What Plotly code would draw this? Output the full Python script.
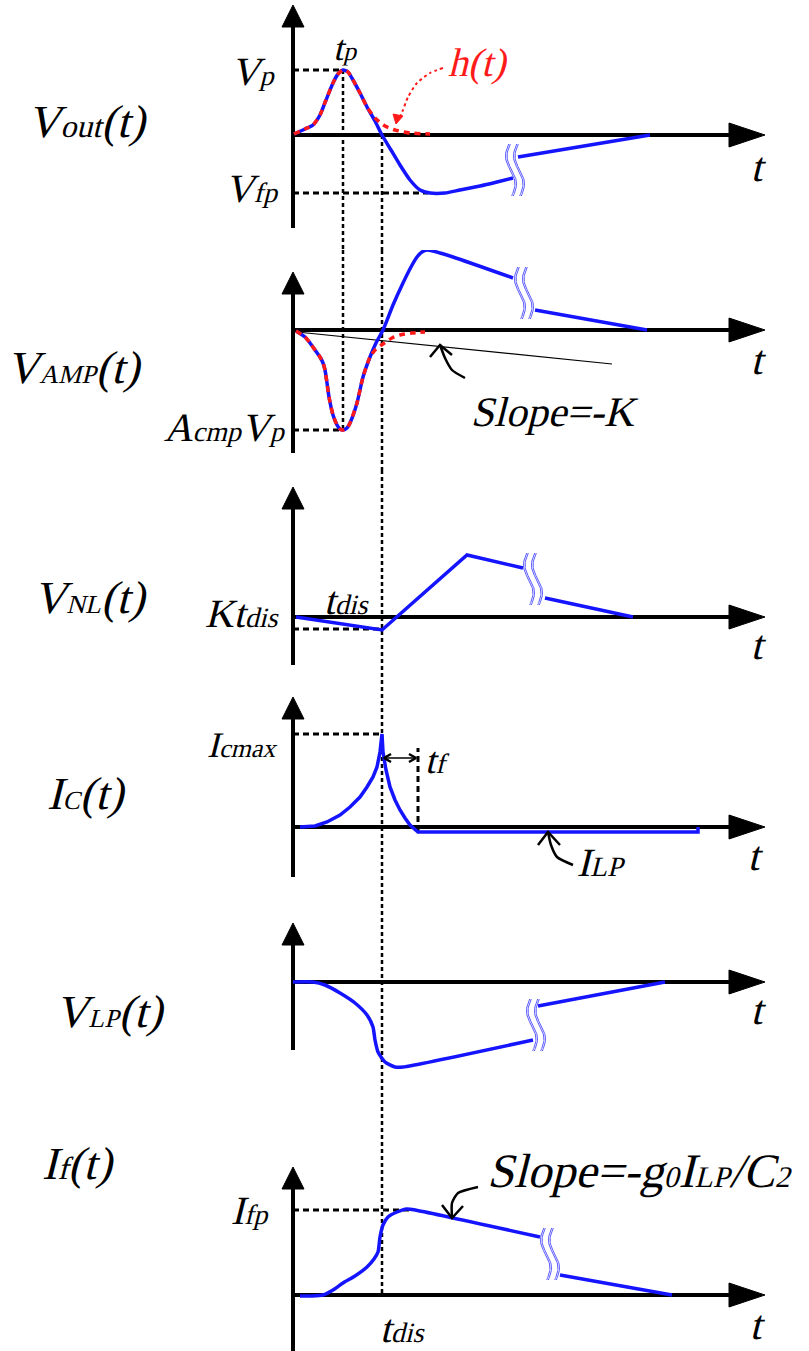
import numpy as np
import plotly.graph_objects as go

# ------------------------------------------------------------------
# DATA  (t = time axis units, v = signal units; one unit ~ one pixel)
# ------------------------------------------------------------------
T_P = 50          # t_p   (peak time)
T_DIS = 89        # t_dis (discharge instant)
T_FEND = 125      # t_dis + t_f
T_AXIS_END = 472  # end of time axes (arrow tip)

# Panel 1 : Vout(t) and h(t)
VOUT_T = [1, 12, 20, 27, 33, 40, 45, 50, 55, 60, 67, 74, 82, 89, 98, 107, 117, 127, 137, 152, 167, 187, 204, 220]
VOUT_V = [1, 6, 10, 20, 35, 52, 61, 65, 63, 55, 42, 28, 14, 0, -15, -30, -45, -55, -58, -58, -55, -51, -47, -43]
VOUT_TAIL_T = [225, 357]
VOUT_TAIL_V = [-22, 0]
H_T = [1, 12, 20, 27, 33, 40, 45, 50, 55, 60, 67, 74, 82, 92, 102, 117, 137]
H_V = [1, 6, 10, 20, 35, 52, 61, 65, 63, 55, 42, 28, 17, 9, 5, 2, 1]
VP = 65
VFP = -58
HARROW_T = [150, 137, 124, 115, 110, 107]
HARROW_V = [67, 62, 52, 38, 25, 18]

# Panel 2 : VAMP(t)
VAMP_T = [3, 12, 17, 22, 27, 30, 32, 34, 36, 40, 44, 47, 50, 54, 57, 64, 70, 77, 83, 90, 100, 110, 118, 124, 129, 134, 140, 160, 220]
VAMP_V = [-1, -7, -13, -20, -27, -33, -40, -53, -67, -85, -95, -99, -100, -98, -93, -73, -47, -27, -13, 0, 25, 47, 63, 73, 78, 80, 79, 73, 52]
VAMP_TAIL_T = [242, 354]
VAMP_TAIL_V = [20, 0]
HAMP_T = [3, 12, 17, 22, 27, 30, 32, 34, 36, 40, 44, 47, 50, 54, 57, 64, 70, 77, 83, 90, 99, 107, 119, 132]
HAMP_V = [-1, -7, -13, -20, -27, -33, -40, -53, -67, -85, -95, -99, -100, -98, -93, -73, -47, -27, -19, -14, -8, -5, -3, -2]
ACMP_VP = -100
SLOPE_K_T = [4, 319]
SLOPE_K_V = [-2, -34]
PTR2_T = [172, 159, 152, 147]
PTR2_V = [-48, -40, -28, -15]

# Panel 3 : VNL(t)
VNL_T = [3, 89, 174, 230]
VNL_V = [0, -13, 62, 49]
VNL_TAIL_T = [252, 340]
VNL_TAIL_V = [19, 0]
KTDIS = -12

# Panel 4 : IC(t)
IC_T = [7, 22, 34, 47, 57, 67, 74, 80, 84, 87, 89, 90, 93, 97, 102, 107, 112, 117, 125, 405, 405]
IC_V = [0, 1, 5, 12, 20, 30, 40, 50, 60, 75, 93, 75, 57, 40, 27, 17, 9, 2, -5, -5, 0]
ICMAX = 93
TF_LEVEL = 69
PTR4_T = [280, 264, 258, 255]
PTR4_V = [-38, -30, -18, -5]

# Panel 5 : VLP(t)
VLP_T = [0, 20, 32, 47, 62, 74, 80, 82, 85, 92, 102, 110, 240]
VLP_V = [0, 0, -3, -11, -21, -33, -45, -58, -70, -80, -85, -85, -58]
VLP_TAIL_T = [245, 372]
VLP_TAIL_V = [-24, 0]

# Panel 6 : If(t)
IF_T = [7, 19, 30, 40, 50, 62, 74, 81, 85, 87, 90, 95, 104, 114, 122, 247]
IF_V = [-1, -1, 0, 5, 12, 19, 28, 36, 43, 58, 70, 78, 83, 86, 85, 58]
IF_TAIL_T = [267, 379]
IF_TAIL_V = [20, 0]
IFP = 85
PTR6_T = [185, 165, 159, 159]
PTR6_V = [108, 102, 92, 77]

# break marks (t centre, v centre) per panel (None = no break)
BREAKS = [(222, -35), (231, 37), (240, 38), None, (243, -43), (257, 41)]

# ------------------------------------------------------------------
# LAYOUT (pixel bands of the six stacked panels: top, bottom, baseline)
# ------------------------------------------------------------------
W, H = 809, 1351
X0 = 293
PANELS = [(0, 250, 135), (250, 470, 330), (470, 680, 617),
          (680, 890, 827), (890, 1100, 982), (1100, 1351, 1295)]
VAXIS = [(-93, 130), (-123, 58), (-48, 130), (-50, 130), (-68, 59), (-56, 128)]

BLUE = "#1414ff"
RED = "#ff1a1a"
BREAK_BLUE = "#5a5aff"
FONT = "Liberation Serif"

fig = go.Figure()


def yname(k):
    return "y" if k == 0 else f"y{k + 1}"


def band(k):
    top, bot, base = PANELS[k]
    return base - bot, base - top   # (v at bottom, v at top)


def line(k, t, v, color="black", width=3, dash="solid", shape="linear"):
    fig.add_trace(go.Scatter(x=list(t), y=list(v), xaxis="x", yaxis=yname(k), mode="lines",
                             line=dict(color=color, width=width, dash=dash, shape=shape,
                                       smoothing=0.6 if shape == "spline" else None),
                             hoverinfo="skip", showlegend=False, cliponaxis=False))


def tri(k, t, v, color="black"):
    fig.add_trace(go.Scatter(x=list(t) + [t[0]], y=list(v) + [v[0]], xaxis="x", yaxis=yname(k),
                             mode="lines", fill="toself", fillcolor=color,
                             line=dict(color=color, width=1), hoverinfo="skip", showlegend=False))


def axes(k):
    vb, vt = VAXIS[k]
    line(k, [0, 0], [vb, vt - 16], width=4)
    tri(k, [-11, 11, 0], [vt - 22, vt - 22, vt])
    line(k, [0, T_AXIS_END - 30], [0, 0], width=4)
    tri(k, [T_AXIS_END - 36, T_AXIS_END - 36, T_AXIS_END], [12, -12, 0])


def brk(k):
    if BREAKS[k] is None:
        return
    tc, vc = BREAKS[k]
    s = np.linspace(0, 1, 40)
    for off in (-4, 4):
        for d in (-0.8, 0.8):
            tt = tc + off + d - 4 * np.sin(2 * np.pi * s) + 3 * (s - 0.5)
            vv = vc + 26 - 52 * s
            line(k, tt, vv, color=BREAK_BLUE, width=1)


def pointer(k, t, v, color="black", width=2.5, dash="solid"):
    line(k, t, v, color=color, width=width, dash=dash, shape="spline")


def chevron(k, tip, a1, a2):
    line(k, [a1[0], tip[0], a2[0]], [a1[1], tip[1], a2[1]], width=2.5)


ann = []


def txt(k, t, v, text, size=40, color="black"):
    ann.append(dict(x=t, y=v, xref="x", yref=yname(k), text=text, showarrow=False,
                    xanchor="center", yanchor="middle",
                    font=dict(family=FONT, size=size, color=color)))


def sp(s, px):
    return f'<span style="font-size:{px}px">{s}</span>'


DASH_H = "6px,4px"
DASH_V = "4px,3px"

# ---- guide lines (drawn first) ----
b1 = band(0)
line(0, [0, T_P], [VP, VP], width=3, dash=DASH_H)
line(0, [0, 135], [VFP, VFP], width=3, dash=DASH_H)
line(0, [T_P, T_P], [VP, b1[0]], width=2.5, dash=DASH_V)
line(0, [T_DIS, T_DIS], [0, b1[0]], width=2.5, dash=DASH_V)
b2 = band(1)
line(1, [T_P, T_P], [b2[1], ACMP_VP], width=2.5, dash=DASH_V)
line(1, [0, T_P], [ACMP_VP, ACMP_VP], width=3, dash=DASH_H)
line(1, [T_DIS, T_DIS], [b2[1], b2[0]], width=2.5, dash=DASH_V)
b3 = band(2)
line(2, [0, T_DIS], [KTDIS, KTDIS], width=3, dash=DASH_H)
line(2, [T_DIS, T_DIS], [b3[1], b3[0]], width=2.5, dash=DASH_V)
b4 = band(3)
line(3, [0, T_DIS], [ICMAX, ICMAX], width=3, dash=DASH_H)
line(3, [T_DIS, T_DIS], [b4[1], b4[0]], width=2.5, dash=DASH_V)
line(3, [T_FEND, T_FEND], [-5, TF_LEVEL + 10], width=3, dash=DASH_H)
b5 = band(4)
line(4, [T_DIS, T_DIS], [b5[1], b5[0]], width=2.5, dash=DASH_V)
b6 = band(5)
line(5, [T_DIS, T_DIS], [b6[1], 0], width=2.5, dash=DASH_V)
line(5, [0, 117], [IFP, IFP], width=3, dash=DASH_H)

# ---- axes ----
for k in range(6):
    axes(k)

# ---- panel 1 ----
line(0, VOUT_T, VOUT_V, BLUE, 3.5, shape="spline")
line(0, VOUT_TAIL_T, VOUT_TAIL_V, BLUE, 3.5)
line(0, H_T, H_V, RED, 3.5, dash="6px,5px", shape="spline")
pointer(0, HARROW_T, HARROW_V, color=RED, width=2, dash="dot")
tri(0, [103, 100, 110], [11, 21, 19], RED)
brk(0)
txt(0, -203, 14, "V" + sp("out", 32) + "(t)", 46)
txt(0, -38, 64, "V" + sp("p", 28), 40)
txt(0, 54, 87, "t" + sp("p", 26), 36)
txt(0, -39, -53, "V" + sp("fp", 28), 40)
txt(0, 187, 73, "h(t)", 40, RED)
txt(0, 467, -32, "t", 42)

# ---- panel 2 ----
line(1, SLOPE_K_T, SLOPE_K_V, "black", 1.2)
line(1, VAMP_T, VAMP_V, BLUE, 3.5, shape="spline")
line(1, VAMP_TAIL_T, VAMP_TAIL_V, BLUE, 3.5)
line(1, HAMP_T, HAMP_V, RED, 3.5, dash="6px,5px", shape="spline")
pointer(1, PTR2_T, PTR2_V)
chevron(1, (PTR2_T[-1], PTR2_V[-1]), (137, -27), (159, -25))
brk(1)
txt(1, -217, -37, "V" + sp("AMP", 26) + "(t)", 46)
txt(1, -66, -97, "A" + sp("cmp", 28) + "V" + sp("p", 28), 40)
txt(1, 263, -82, "Slope=-K", 42)
txt(1, 467, -30, "t", 42)

# ---- panel 3 ----
line(2, VNL_T, VNL_V, BLUE, 3.5)
line(2, VNL_TAIL_T, VNL_TAIL_V, BLUE, 3.5)
brk(2)
txt(2, -201, 20, "V" + sp("NL", 26) + "(t)", 46)
txt(2, -49, 4, "Kt" + sp("dis", 28), 40)
txt(2, 56, 17, "t" + sp("dis", 28), 40)
txt(2, 467, -28, "t", 42)

# ---- panel 4 ----
line(3, IC_T, IC_V, BLUE, 3.5)
line(3, [T_DIS + 2, T_FEND - 2], [TF_LEVEL, TF_LEVEL], "black", 1.5)
chevron(3, (T_DIS + 2, TF_LEVEL), (T_DIS + 9, TF_LEVEL + 4), (T_DIS + 9, TF_LEVEL - 4))
chevron(3, (T_FEND - 2, TF_LEVEL), (T_FEND - 9, TF_LEVEL + 4), (T_FEND - 9, TF_LEVEL - 4))
pointer(3, PTR4_T, PTR4_V)
chevron(3, (PTR4_T[-1], PTR4_V[-1]), (245, -18), (267, -18))
txt(3, -204, 34, "I" + sp("C", 26) + "(t)", 46)
txt(3, -49, 82, "I" + sp("cmax", 26), 36)
txt(3, 145, 67, "t" + sp("f", 28), 38)
txt(3, 310, -35, "I" + sp("LP", 28), 40)
txt(3, 464, -29, "t", 42)

# ---- panel 5 ----
line(4, VLP_T, VLP_V, BLUE, 3.5, shape="spline")
line(4, VLP_TAIL_T, VLP_TAIL_V, BLUE, 3.5)
brk(4)
txt(4, -181, -29, "V" + sp("LP", 26) + "(t)", 46)
txt(4, 467, -28, "t", 42)

# ---- panel 6 ----
line(5, IF_T, IF_V, BLUE, 3.5, shape="spline")
line(5, IF_TAIL_T, IF_TAIL_V, BLUE, 3.5)
pointer(5, PTR6_T, PTR6_V)
chevron(5, (PTR6_T[-1], PTR6_V[-1]), (149, 90), (170, 89))
brk(5)
txt(5, -213, 132, "I" + sp("f", 32) + "(t)", 46)
txt(5, -41, 85, "I" + sp("fp", 28), 40)
txt(5, 112, -33, "t" + sp("dis", 28), 40)
txt(5, 349, 125, "Slope=-g" + sp("0", 30) + "I" + sp("LP", 30) + "/C" + sp("2", 30), 48)
txt(5, 466, -30, "t", 42)

# ---- axes layout ----
layout = dict(width=W, height=H, margin=dict(l=0, r=0, t=0, b=0),
              paper_bgcolor="white", plot_bgcolor="white", showlegend=False,
              annotations=ann,
              xaxis=dict(domain=[0, 1], range=[-X0, W - X0], visible=False, fixedrange=True))
for k, (top, bot, base) in enumerate(PANELS):
    key = "yaxis" if k == 0 else f"yaxis{k + 1}"
    layout[key] = dict(domain=[1 - bot / H, 1 - top / H], range=[base - bot, base - top],
                       visible=False, fixedrange=True, anchor="x")
fig.update_layout(**layout)

# no italic serif face is installed: slant the serif labels so they read as Times italic
POST = """
document.body.style.margin='0';document.body.style.overflow='hidden';
function slant(){
  document.querySelectorAll('text.annotation-text').forEach(function(e){
    e.style.transformBox='fill-box'; e.style.transformOrigin='center';
    e.style.transform='skewX(-14deg)';
  });
}
slant(); setTimeout(slant, 50); setTimeout(slant, 300);
var gd=document.getElementById('{plot_id}'); if(gd && gd.on){gd.on('plotly_afterplot', slant);}
"""
fig.write_html("out.html", config={"displayModeBar": False}, post_script=POST)
